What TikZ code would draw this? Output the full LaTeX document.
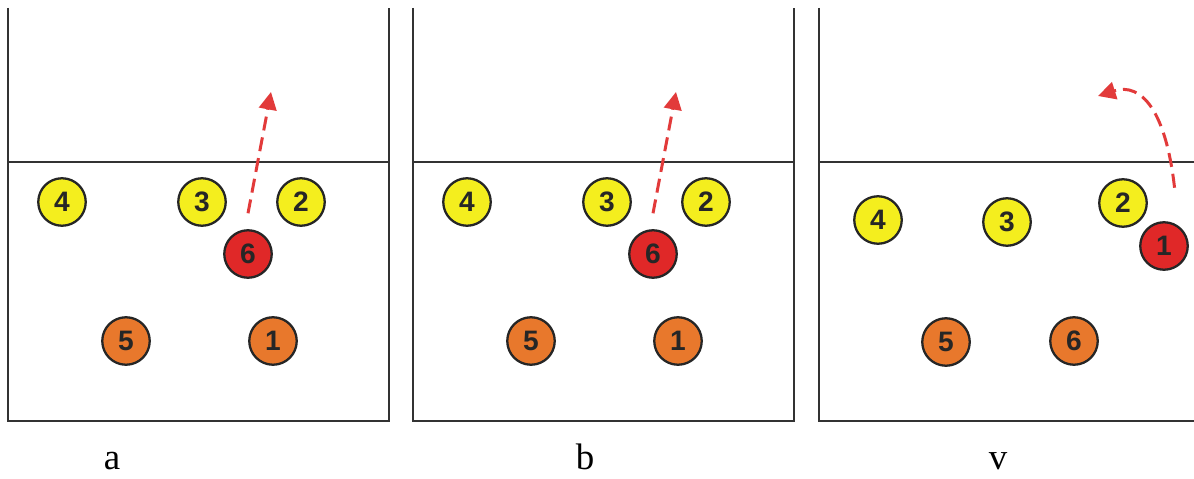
\documentclass[tikz,border=0pt]{standalone}
\usepackage{fontspec}
\setmainfont{Liberation Serif}
\newfontfamily\numfont{Liberation Sans}
\usetikzlibrary{arrows.meta}
\definecolor{courtline}{HTML}{333333}
\definecolor{frontyellow}{HTML}{F4EE1E}
\definecolor{backorange}{HTML}{E8782C}
\definecolor{setterred}{HTML}{E02828}
\definecolor{movered}{HTML}{E23A3A}
\tikzset{
  player/.style={circle, draw=black!85, line width=1.3pt, minimum size=0.95cm,
    inner sep=0pt, font=\numfont\fontsize{16}{16}\selectfont\bfseries, text=black!85},
  front/.style={player, fill=frontyellow},
  back/.style={player, fill=backorange},
  setter/.style={player, fill=setterred},
  court/.style={courtline, line width=1.6pt},
  move/.style={movered, line width=1.7pt, dash pattern=on 8pt off 4pt,
    -{Triangle[length=10pt,width=10pt]}},
  caption/.style={font=\fontsize{21}{21}\selectfont, anchor=base, inner sep=0pt}
}

\begin{document}
\begin{tikzpicture}[x=0.02cm, y=-0.02cm]
\useasboundingbox (0,0) rectangle (1194,479);
\fill[white] (0,0) rectangle (1194,479);

% a and b: same setup
\foreach \ox/\p in {0/a,405/b}{
  \begin{scope}[shift={(\ox,0)}]
    \draw[court] (8,8) -- (8,421) -- (389,421) -- (389,8);
    \draw[court] (8,162) -- (389,162);
    \node[front] (\p4) at (62,202) {4};
    \node[front] (\p3) at (202,202) {3};
    \node[front] (\p2) at (301,202) {2};
    \node[setter] (\p6) at (248,254) {6};
    \node[back] (\p5) at (126,341) {5};
    \node[back] (\p1) at (273,341) {1};
    \coordinate (\p tip) at (271,92);
    \draw[move] ([yshift=9pt]\p6.north) -- (\p tip);
  \end{scope}
}

% v: setter comes from zone 1
\draw[court] (819,8) -- (819,421) -- (1194,421);
\draw[court] (819,162) -- (1194,162);
\node[front] (v4) at (878,220) {4};
\node[front] (v3) at (1007,222) {3};
\node[front] (v2) at (1123,203) {2};
\node[setter] (v1) at (1164,246) {1};
\node[back] (v5) at (946,342) {5};
\node[back] (v6) at (1074,341) {6};
\coordinate (vtip) at (1098,96);
\draw[move] ([xshift=6pt,yshift=19pt]v1.north)
  .. controls (1166,112) and (1142,82) .. (vtip);

\node[caption] (capa) at (112,470) {a};
\node[caption] (capb) at (585,470) {b};
\node[caption] (capv) at (998,470) {v};
\end{tikzpicture}
\end{document}
